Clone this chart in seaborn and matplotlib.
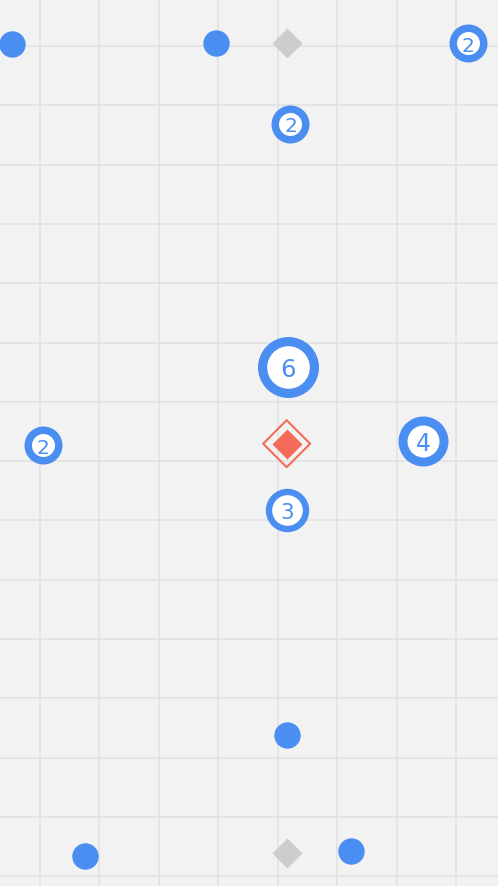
import matplotlib
matplotlib.use("Agg")
import matplotlib.pyplot as plt
import seaborn as sns
import pandas as pd

# ---- data (grid units) ----
dot_x = [-0.466, 2.96, 4.156, 0.758, 5.237]
dot_y = [14.03, 14.06, 2.383, 0.334, 0.418]

gray_x = [4.151, 4.156]
gray_y = [14.05, 0.388]

cluster_x = [7.203, 4.215, 4.170, 0.061, 6.447, 4.151]
cluster_y = [14.05, 12.69, 8.59, 7.265, 7.346, 6.18]
cluster_n = [2, 2, 6, 2, 4, 3]

focus_x = [4.151]
focus_y = [7.295]

BLUE = "#4a8ef1"
GRAY = "#cdcbcb"
RED = "#f26b5b"
BG = "#f2f2f2"

sns.set_theme(style="whitegrid", rc={
    "axes.facecolor": BG,
    "figure.facecolor": BG,
    "grid.color": "#e0e0e0",
    "grid.linewidth": 1.1,
})
plt.rcParams['font.family'] = ['DejaVu Sans']

fig = plt.figure(figsize=(4.98, 8.87), dpi=100)
ax = fig.add_axes([0, 0, 1, 1])

# px radius -> scatter area
def area_circle(r_px):
    return 2.0736 * r_px ** 2

def area_diamond(h_px):
    pt = h_px * 0.72
    return (pt / 0.7071) ** 2

outer_r = {2: 19.0, 3: 21.7, 4: 25.0, 6: 30.5}
inner_r = {2: 11.5, 3: 15.3, 4: 16.0, 6: 21.3}
font_sz = {2: 14.5, 3: 15.5, 4: 17, 6: 17.5}

dots = pd.DataFrame({"x": dot_x, "y": dot_y})
sns.scatterplot(data=dots, x="x", y="y", s=area_circle(13.2), color=BLUE,
                linewidth=0, ax=ax, zorder=3)

grays = pd.DataFrame({"x": gray_x, "y": gray_y})
sns.scatterplot(data=grays, x="x", y="y", s=area_diamond(15.0), marker="D",
                color=GRAY, linewidth=0, ax=ax, zorder=3)

clusters = pd.DataFrame({"x": cluster_x, "y": cluster_y, "n": cluster_n})
for _, row in clusters.iterrows():
    n = int(row["n"])
    sns.scatterplot(x=[row["x"]], y=[row["y"]], s=area_circle(outer_r[n]),
                    color=BLUE, linewidth=0, ax=ax, zorder=4)
    sns.scatterplot(x=[row["x"]], y=[row["y"]], s=area_circle(inner_r[n]),
                    color="white", linewidth=0, ax=ax, zorder=5)
    ax.text(row["x"], row["y"], str(n), ha="center", va="center_baseline",
            color=BLUE, fontsize=font_sz[n], zorder=6)

focus = pd.DataFrame({"x": focus_x, "y": focus_y})
sns.scatterplot(data=focus, x="x", y="y", s=area_diamond(23.5), marker="D",
                facecolor="none", edgecolor=RED, linewidth=1.5, ax=ax, zorder=4)
sns.scatterplot(data=focus, x="x", y="y", s=area_diamond(15.0), marker="D",
                color=RED, linewidth=0, ax=ax, zorder=5)

ax.set_xlim(-0.667, 7.703)
ax.set_ylim(-0.164, 14.794)
ax.set_xticks(range(0, 8))
ax.set_yticks(range(0, 15))
ax.set_xticklabels([])
ax.set_yticklabels([])
ax.set_xlabel("")
ax.set_ylabel("")
ax.tick_params(length=0)
for s in ax.spines.values():
    s.set_visible(False)
if ax.get_legend():
    ax.get_legend().remove()

fig.savefig("out.png", dpi=100, facecolor=BG)
